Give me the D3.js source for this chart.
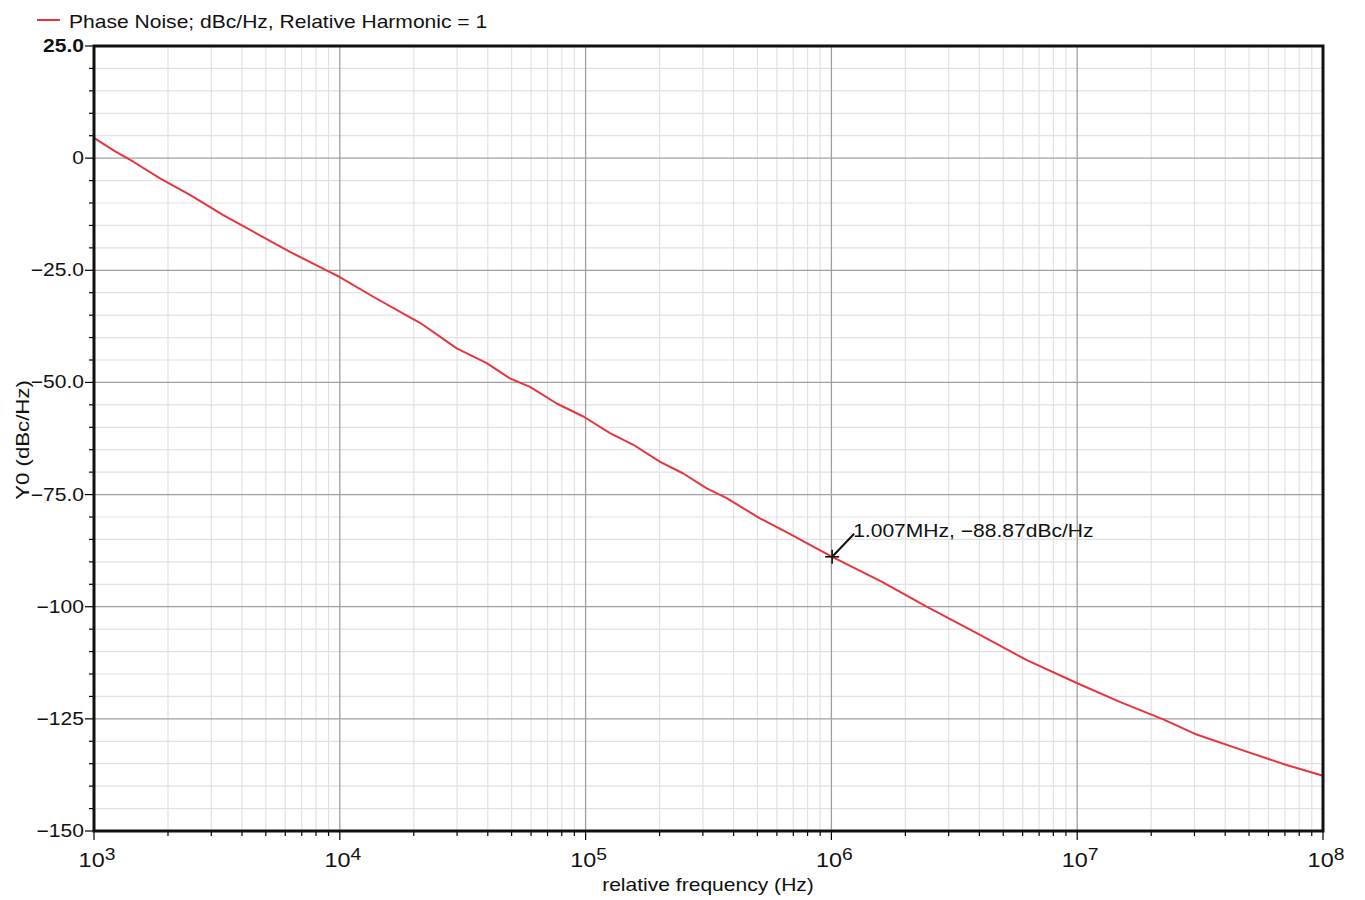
<!DOCTYPE html>
<html>
<head>
<meta charset="utf-8">
<script src="https://cdn.jsdelivr.net/npm/d3@7"></script>
<style>
  html, body { margin: 0; padding: 0; background: #fff; }
  svg { display: block; font-family: "Liberation Sans", Arial, Helvetica, sans-serif; }
</style>
</head>
<body>
<svg id="chart" width="1365" height="900"></svg>
<script>
// Phase noise sweep, offset frequency in Hz vs dBc/Hz
const freqHz = [1000, 1220, 1445, 1856, 2457, 3357, 4590, 6270, 9120, 10000, 13680, 19300,
  21200, 29900, 39600, 49200, 59400, 76300, 97900, 125700, 156400, 201000, 249700, 311000,
  375000, 512000, 680000, 1007000, 1600000, 2440000, 3900000, 6240000, 9960000, 14900000,
  22400000, 30600000, 48900000, 71100000, 100000000];
const phaseNoise = [4.5, 1.5, -0.8, -4.5, -8.2, -12.7, -16.8, -20.9, -25.4, -26.5, -30.9, -35.5,
  -36.7, -42.4, -45.7, -49.1, -51.0, -54.7, -57.6, -61.3, -63.9, -67.7, -70.3, -73.6,
  -75.8, -80.3, -83.8, -88.87, -94.4, -100.0, -105.9, -111.9, -117.0, -121.2,
  -125.1, -128.5, -132.3, -135.3, -137.7];

const yTickValues = [25, 0, -25, -50, -75, -100, -125, -150];
const yTickLabels = ["25.0", "0", "\u221225.0", "\u221250.0", "\u221275.0", "\u2212100", "\u2212125", "\u2212150"];
const xDecades = [3, 4, 5, 6, 7, 8];

const markerFreq = 1007000;
const markerValue = -88.87;
const markerLabel = "1.007MHz, \u221288.87dBc/Hz";
const legendLabel = "Phase Noise; dBc/Hz, Relative Harmonic = 1";
const xTitle = "relative frequency (Hz)";
const yTitle = "Y0 (dBc/Hz)";

const lineColor = "#e8343f";
const textColor = "#111";
const plot = { left: 94, right: 1323, top: 46, bottom: 831 };
// the plotting tool's font is a slightly wide sans; widen glyphs horizontally
const SX = 1.17;
const FS = 18;

const svg = d3.select("#chart");
const x = d3.scaleLog().domain([1e3, 1e8]).range([plot.left, plot.right]);
const y = d3.scaleLinear().domain([-150, 25]).range([plot.bottom, plot.top]);

const at = (px, py, rot) => `translate(${px},${py})${rot ? ` rotate(${rot})` : ""} scale(${SX},1)`;

// minor values
const xMinor = [];
for (let d = 3; d < 8; d++) for (let m = 2; m <= 9; m++) xMinor.push(m * Math.pow(10, d));
const yMinor = d3.range(-150, 25.001, 5).filter(v => v % 25 !== 0);
const xMajor = xDecades.map(d => Math.pow(10, d));

const grid = svg.append("g");
// minor grid
grid.selectAll(".xm").data(xMinor).join("line")
  .attr("x1", d => x(d)).attr("x2", d => x(d))
  .attr("y1", plot.top).attr("y2", plot.bottom)
  .attr("stroke", "#e2e2e2").attr("stroke-width", 1.2);
grid.selectAll(".ym").data(yMinor).join("line")
  .attr("x1", plot.left).attr("x2", plot.right)
  .attr("y1", d => y(d)).attr("y2", d => y(d))
  .attr("stroke", "#e2e2e2").attr("stroke-width", 1.2);
// major grid
grid.selectAll(".xM").data(xMajor.slice(1, -1)).join("line")
  .attr("x1", d => x(d)).attr("x2", d => x(d))
  .attr("y1", plot.top).attr("y2", plot.bottom)
  .attr("stroke", "#a0a0a0").attr("stroke-width", 1.3);
grid.selectAll(".yM").data(yTickValues.slice(1, -1)).join("line")
  .attr("x1", plot.left).attr("x2", plot.right)
  .attr("y1", d => y(d)).attr("y2", d => y(d))
  .attr("stroke", "#a0a0a0").attr("stroke-width", 1.3);

// curve
const line = d3.line().x((d, i) => x(freqHz[i])).y(d => y(d));
svg.append("path").datum(phaseNoise)
  .attr("d", line)
  .attr("fill", "none").attr("stroke", lineColor).attr("stroke-width", 2)
  .attr("stroke-linejoin", "round");

// y axis
const yAxis = svg.append("g");
yAxis.selectAll(".ytm").data(yMinor).join("line")
  .attr("x1", plot.left - 5).attr("x2", plot.left)
  .attr("y1", d => y(d)).attr("y2", d => y(d))
  .attr("stroke", "#000").attr("stroke-width", 1.2);
yAxis.selectAll(".ytM").data(yTickValues).join("line")
  .attr("x1", plot.left - 9).attr("x2", plot.left)
  .attr("y1", d => y(d)).attr("y2", d => y(d))
  .attr("stroke", "#000").attr("stroke-width", 1.2);
yAxis.selectAll(".ytl").data(yTickValues).join("text")
  .attr("transform", d => at(plot.left - 10, y(d) + 6))
  .attr("text-anchor", "end").attr("font-size", FS)
  .attr("font-weight", (d, i) => i === 0 ? "bold" : "normal")
  .attr("fill", textColor)
  .text((d, i) => yTickLabels[i]);

// x axis
const xAxis = svg.append("g");
xAxis.selectAll(".xtm").data(xMinor).join("line")
  .attr("x1", d => x(d)).attr("x2", d => x(d))
  .attr("y1", plot.bottom).attr("y2", plot.bottom + 5)
  .attr("stroke", "#000").attr("stroke-width", 1.2);
xAxis.selectAll(".xtM").data(xMajor).join("line")
  .attr("x1", d => x(d)).attr("x2", d => x(d))
  .attr("y1", plot.bottom).attr("y2", plot.bottom + 9)
  .attr("stroke", "#000").attr("stroke-width", 1.2);
const xl = xAxis.selectAll(".xtl").data(xDecades).join("text")
  .attr("transform", d => at(x(Math.pow(10, d)) + 3, plot.bottom + 36))
  .attr("text-anchor", "middle").attr("fill", textColor);
xl.append("tspan").attr("font-size", 20).text("10");
xl.append("tspan").attr("font-size", 16.5).attr("dy", -7).text(d => d);

// frame
svg.append("rect")
  .attr("x", plot.left).attr("y", plot.top)
  .attr("width", plot.right - plot.left).attr("height", plot.bottom - plot.top)
  .attr("fill", "none").attr("stroke", "#111").attr("stroke-width", 3);

// axis titles
svg.append("text")
  .attr("transform", at(708, 891))
  .attr("text-anchor", "middle").attr("font-size", FS).attr("fill", textColor).text(xTitle);
svg.append("text")
  .attr("transform", at(29, 440, -90))
  .attr("text-anchor", "middle").attr("font-size", 19).attr("fill", textColor).text(yTitle);

// legend
svg.append("line").attr("x1", 37).attr("x2", 60).attr("y1", 20).attr("y2", 20)
  .attr("stroke", lineColor).attr("stroke-width", 2);
svg.append("text").attr("transform", at(69, 28)).attr("font-size", FS)
  .attr("fill", textColor).text(legendLabel);

// marker with leader line
const mx = x(markerFreq), my = y(markerValue);
const mk = svg.append("g").attr("stroke", "#111");
mk.append("line").attr("x1", mx - 7).attr("x2", mx + 7).attr("y1", my).attr("y2", my).attr("stroke-width", 1.6);
mk.append("line").attr("x1", mx).attr("x2", mx).attr("y1", my - 7).attr("y2", my + 7).attr("stroke-width", 1.6);
mk.append("line").attr("x1", mx + 22).attr("y1", my - 23).attr("x2", mx + 1).attr("y2", my - 1)
  .attr("stroke-width", 2);
svg.append("text").attr("transform", at(mx + 21, my - 20))
  .attr("font-size", FS).attr("fill", textColor).text(markerLabel);
</script>
</body>
</html>
